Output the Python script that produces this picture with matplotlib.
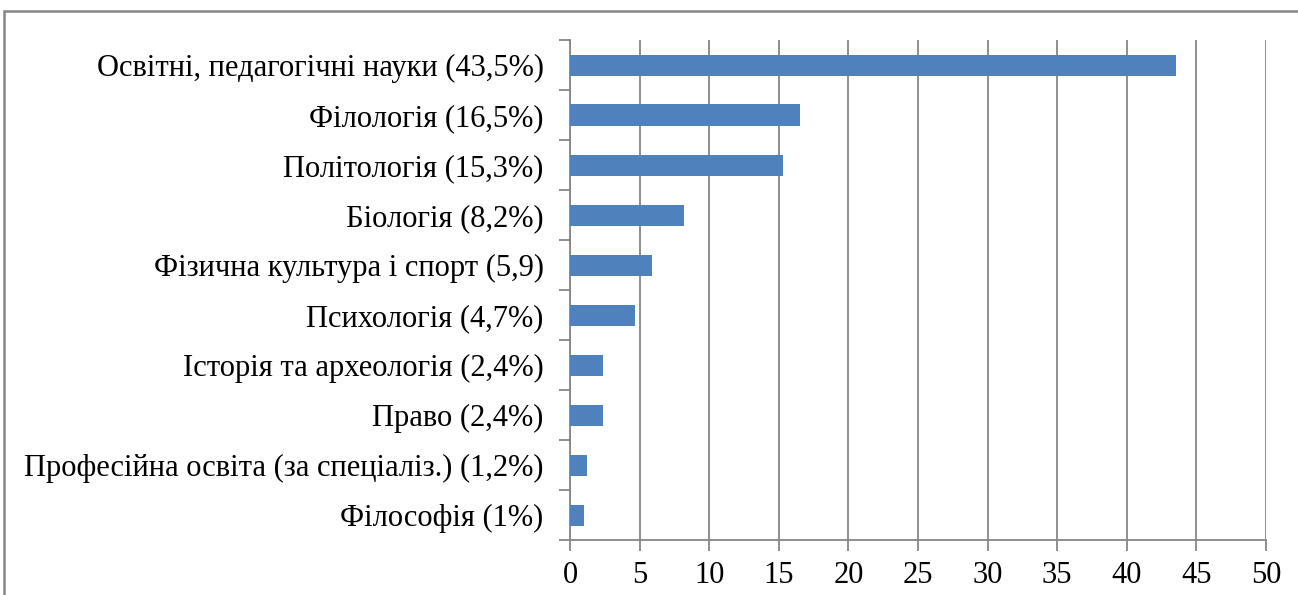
import matplotlib.pyplot as plt
from matplotlib.patches import Rectangle
import numpy as np

categories = [
    "Освітні, педагогічні науки (43,5%)",
    "Філологія (16,5%)",
    "Політологія (15,3%)",
    "Біологія (8,2%)",
    "Фізична культура і спорт (5,9)",
    "Психологія (4,7%)",
    "Історія та археологія (2,4%)",
    "Право (2,4%)",
    "Професійна освіта (за спеціаліз.) (1,2%)",
    "Філософія (1%)",
]
values = [43.5, 16.5, 15.3, 8.2, 5.9, 4.7, 2.4, 2.4, 1.2, 1.0]
x_ticks = [0, 5, 10, 15, 20, 25, 30, 35, 40, 45, 50]

plt.rcParams['font.family'] = ['Liberation Serif', 'DejaVu Serif']
grey = '#868686'

fig = plt.figure(figsize=(12.98, 5.95), dpi=100)
ax = fig.add_axes([570 / 1298, 1 - 540 / 595, 696 / 1298, 500 / 595])

# outer chart frame (cut off at right and bottom)
fig.patches.append(Rectangle((4 / 1298, -0.05), 1.2, 1 - 11 / 595 + 0.05,
                             transform=fig.transFigure, fill=False,
                             edgecolor=grey, linewidth=1.8, zorder=0))

y = np.arange(len(categories))[::-1]
ax.barh(y, values, height=0.42, color='#4F81BD', zorder=3)

ax.set_xlim(0, 50)
ax.set_ylim(-0.5, len(categories) - 0.5)
ax.set_xticks(x_ticks)
ax.set_yticks(y)
ax.set_yticklabels(categories)
ax.set_yticks(np.arange(-0.5, len(categories)), minor=True)

ax.grid(True, axis='x', color=grey, linewidth=1.3, zorder=0)
ax.tick_params(axis='y', which='major', length=0, labelsize=22, pad=19)
ax.tick_params(axis='y', which='minor', length=8, width=1.3, color=grey)
ax.tick_params(axis='x', length=8, width=1.3, color=grey, labelsize=22, pad=7)

for s in ['top', 'right']:
    ax.spines[s].set_visible(False)
for s in ['left', 'bottom']:
    ax.spines[s].set_color(grey)
    ax.spines[s].set_linewidth(1.3)

fig.savefig("out.png", dpi=100)
